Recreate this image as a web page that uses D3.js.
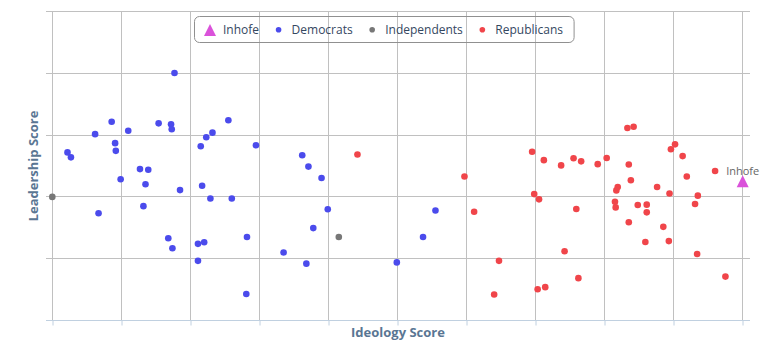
<!DOCTYPE html>
<html>
<head>
<meta charset="utf-8">
<script src="https://cdn.jsdelivr.net/npm/d3@7"></script>
<style>
  html, body { margin: 0; padding: 0; background: #ffffff; }
  svg { display: block; font-family: "Open Sans", "DejaVu Sans", sans-serif; }
</style>
</head>
<body>
<svg id="chart" width="762" height="346"></svg>
<script>
// Senators: [ideology score, leadership score]
const inhofe = [[1.000, 0.451]];

const democrats = [
  [0.022, 0.544], [0.027, 0.528], [0.062, 0.603], [0.067, 0.347], [0.086, 0.643],
  [0.091, 0.574], [0.092, 0.549], [0.099, 0.457], [0.110, 0.614], [0.127, 0.490],
  [0.139, 0.488], [0.132, 0.370], [0.135, 0.441], [0.154, 0.638], [0.168, 0.266],
  [0.172, 0.635], [0.173, 0.619], [0.177, 0.801], [0.174, 0.234], [0.185, 0.422],
  [0.211, 0.248], [0.211, 0.193], [0.215, 0.564], [0.217, 0.436], [0.220, 0.253],
  [0.223, 0.593], [0.229, 0.395], [0.232, 0.608], [0.255, 0.648], [0.260, 0.395],
  [0.281, 0.086], [0.282, 0.270], [0.295, 0.567], [0.335, 0.220], [0.362, 0.535],
  [0.368, 0.184], [0.371, 0.498], [0.378, 0.299], [0.390, 0.461], [0.399, 0.360],
  [0.499, 0.188], [0.537, 0.270], [0.555, 0.356]
];

const independents = [[0.000, 0.400], [0.415, 0.270]];

const republicans = [
  [0.442, 0.537], [0.597, 0.466], [0.611, 0.352], [0.640, 0.084], [0.647, 0.193],
  [0.695, 0.546], [0.698, 0.409], [0.705, 0.392], [0.703, 0.101], [0.714, 0.108],
  [0.712, 0.519], [0.737, 0.502], [0.742, 0.224], [0.755, 0.525], [0.759, 0.361],
  [0.762, 0.137], [0.766, 0.515], [0.790, 0.506], [0.803, 0.526], [0.815, 0.384],
  [0.816, 0.366], [0.817, 0.421], [0.819, 0.432], [0.833, 0.623], [0.842, 0.627],
  [0.835, 0.505], [0.838, 0.454], [0.848, 0.374], [0.861, 0.375], [0.861, 0.350],
  [0.835, 0.318], [0.859, 0.254], [0.876, 0.432], [0.885, 0.303], [0.893, 0.257],
  [0.894, 0.411], [0.896, 0.554], [0.902, 0.570], [0.913, 0.532], [0.919, 0.466],
  [0.931, 0.377], [0.935, 0.404], [0.934, 0.215], [0.960, 0.484], [0.975, 0.142]
];

const seriesNames = ["Inhofe", "Democrats", "Independents", "Republicans"];
const xTicks = [0, 0.1, 0.2, 0.3, 0.4, 0.5, 0.6, 0.7, 0.8, 0.9, 1.0];
const yTicks = [0, 0.2, 0.4, 0.6, 0.8, 1.0];
const xTitle = "Ideology Score";
const yTitle = "Leadership Score";

// ---- drawing ----
const colors = {
  Inhofe: "#da52da",
  Democrats: "#4b4bec",
  Independents: "#777777",
  Republicans: "#f0454a"
};

const plot = { left: 46, right: 750, top: 11.5, bottom: 320.5 };
const svg = d3.select("#chart");
svg.append("rect").attr("width", 762).attr("height", 346).attr("fill", "#ffffff");

const x = d3.scaleLinear().domain([0, 1]).range([52.3, 742.7]);
const y = d3.scaleLinear().domain([0, 1]).range([plot.bottom, plot.top]);
const crisp = v => Math.floor(v) + 0.5;

// grid
const grid = svg.append("g").attr("stroke", "#c0c0c0").attr("stroke-width", 1);
grid.selectAll("line.h").data(yTicks).join("line")
  .attr("class", "h")
  .attr("x1", plot.left).attr("x2", plot.right)
  .attr("y1", d => crisp(y(d))).attr("y2", d => crisp(y(d)));
grid.selectAll("line.v").data(xTicks).join("line")
  .attr("class", "v")
  .attr("x1", d => crisp(x(d))).attr("x2", d => crisp(x(d)))
  .attr("y1", crisp(plot.top)).attr("y2", crisp(plot.bottom));

// x axis: line and tick marks, labels hidden
const xAxis = svg.append("g")
  .attr("transform", `translate(0.5,${crisp(plot.bottom)})`)
  .call(d3.axisBottom(x).tickValues(xTicks).tickSize(5).tickSizeOuter(0).tickFormat(""));
xAxis.select(".domain").remove();
xAxis.selectAll(".tick line").attr("stroke", "#c0d0e0")
  .attr("transform", d => `translate(${crisp(x(d)) - x(d) - 0.5},0)`);
svg.append("line")
  .attr("x1", plot.left).attr("x2", plot.right)
  .attr("y1", crisp(plot.bottom)).attr("y2", crisp(plot.bottom))
  .attr("stroke", "#c0d0e0");

// axis titles
svg.append("text")
  .attr("x", (plot.left + plot.right) / 2).attr("y", 336.5)
  .attr("text-anchor", "middle")
  .attr("font-size", 13).attr("font-weight", "bold").attr("fill", "#5a7693")
  .text(xTitle);
svg.append("text")
  .attr("transform", `translate(37.5,${(plot.top + plot.bottom) / 2}) rotate(-90)`)
  .attr("text-anchor", "middle")
  .attr("font-size", 13).attr("font-weight", "bold").attr("fill", "#5a7693")
  .text(yTitle);

// marker shapes
const triPath = (cx, cy, r) => `M${cx},${cy - r}L${cx + r},${cy + r}L${cx - r},${cy + r}Z`;

const marks = svg.append("g");
marks.append("g").selectAll("path").data(inhofe).join("path")
  .attr("d", d => triPath(x(d[0]), y(d[1]), 6))
  .attr("fill", colors.Inhofe);
[["Democrats", democrats], ["Independents", independents], ["Republicans", republicans]]
  .forEach(([name, data]) => {
    marks.append("g").selectAll("circle").data(data).join("circle")
      .attr("cx", d => x(d[0])).attr("cy", d => y(d[1])).attr("r", 3.3)
      .attr("fill", colors[name]);
  });

// data label for Inhofe
svg.append("g").selectAll("text").data(inhofe).join("text")
  .attr("x", d => x(d[0])).attr("y", d => y(d[1]) - 6.5)
  .attr("text-anchor", "middle").attr("font-size", 11).attr("fill", "#666666")
  .text("Inhofe");

// legend
const legend = svg.append("g");
const box = legend.append("rect")
  .attr("x", 194.5).attr("y", 16.5).attr("height", 26).attr("rx", 5)
  .attr("fill", "none").attr("stroke", "#909090");
let cx = 210;
let textEnd = cx;
seriesNames.forEach(name => {
  if (name === "Inhofe") {
    legend.append("path").attr("d", triPath(cx, 30, 6)).attr("fill", colors[name]);
  } else {
    legend.append("circle").attr("cx", cx).attr("cy", 29.7).attr("r", 2.8).attr("fill", colors[name]);
  }
  const t = legend.append("text")
    .attr("x", cx + 13).attr("y", 34)
    .attr("font-size", 12).attr("fill", "#34475f")
    .text(name);
  textEnd = cx + 13 + t.node().getComputedTextLength();
  cx = textEnd + 19.5;
});
box.attr("width", textEnd + 11 - 194.5);
</script>
</body>
</html>
